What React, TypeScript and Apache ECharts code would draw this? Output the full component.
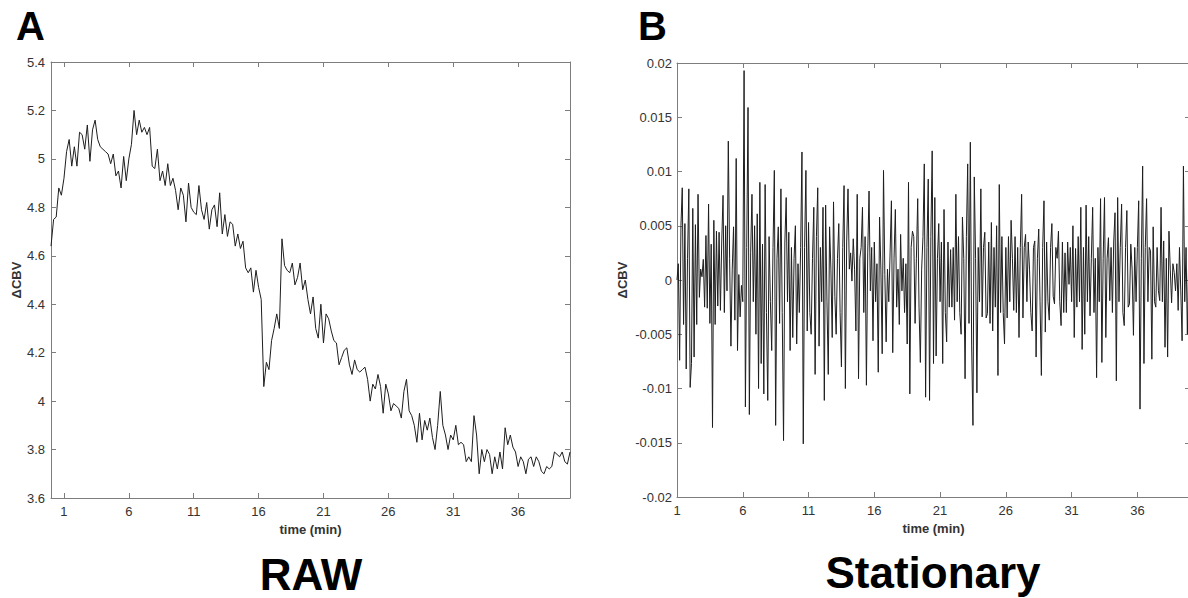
import React, { useEffect, useRef } from "react";
import * as echarts from "echarts";

// ---------- data ----------
// Panel A (RAW): ΔCBV sampled every 0.2 min starting at t = 0
const rawStart = 0;
const rawStep = 0.2;
const rawValues = [
  4.64, 4.75, 4.76, 4.88, 4.85,
  4.92, 5.03, 5.08, 4.97, 5.05,
  4.97, 5.11, 5.10, 5.04, 5.14,
  4.99, 5.12, 5.16, 5.08, 5.05,
  5.04, 5.03, 5.02, 4.98, 5.02,
  4.93, 4.95, 4.88, 5.01, 4.91,
  5.00, 5.06, 5.20, 5.10, 5.16,
  5.11, 5.13, 5.10, 5.13, 4.97,
  4.96, 5.04, 4.91, 4.95, 4.89,
  4.98, 4.89, 4.92, 4.87, 4.79,
  4.88, 4.85, 4.74, 4.90, 4.80,
  4.78, 4.77, 4.89, 4.79, 4.75,
  4.82, 4.71, 4.79, 4.81, 4.72,
  4.86, 4.69, 4.77, 4.68, 4.74,
  4.73, 4.64, 4.69, 4.63, 4.66,
  4.55, 4.53, 4.55, 4.45, 4.54,
  4.47, 4.42, 4.06, 4.16, 4.13,
  4.25, 4.30, 4.36, 4.30, 4.67,
  4.56, 4.54, 4.53, 4.57, 4.48,
  4.51, 4.57, 4.46, 4.50, 4.42,
  4.36, 4.43, 4.30, 4.26, 4.40,
  4.24, 4.36, 4.34, 4.29, 4.25,
  4.24, 4.15, 4.18, 4.21, 4.22,
  4.15, 4.11, 4.17, 4.13, 4.12,
  4.13, 4.14, 4.09, 4.00, 4.07,
  4.05, 4.11, 4.06, 3.95, 4.07,
  4.03, 3.96, 3.99, 3.98, 3.97,
  3.93, 4.04, 4.09, 3.96, 3.94,
  3.90, 3.83, 3.95, 3.84, 3.92,
  3.88, 3.93, 3.85, 3.80, 3.90,
  4.04, 3.90, 3.86, 3.80, 3.86,
  3.84, 3.90, 3.82, 3.83, 3.82,
  3.75, 3.77, 3.75, 3.94, 3.86,
  3.70, 3.80, 3.75, 3.80, 3.78,
  3.70, 3.77, 3.72, 3.79, 3.72,
  3.89, 3.82, 3.86, 3.81, 3.79,
  3.73, 3.77, 3.75, 3.70, 3.76,
  3.77, 3.73, 3.77, 3.75, 3.71,
  3.70, 3.73, 3.72, 3.73, 3.79,
  3.78, 3.77, 3.79, 3.75, 3.74,
  3.79,
];

// Panel B (Stationary): ΔCBV sampled every 0.1 min starting at t = 1
const statStart = 1;
const statStep = 0.1;
const statValues = [
  0, 1.5e-3, -7.4e-3, 5.0e-3, 8.5e-3, -4.1e-3, 5.2e-3, -8.2e-3, 2.0e-3, 8.4e-3,
  -9.9e-3, -7.7e-3, 6.6e-3, -7.1e-3, 5.1e-3, -4.1e-3, 7.9e-3, -1.6e-3, 1.0e-3, 0.3e-3,
  1.9e-3, -2.5e-3, 4.1e-3, -2.6e-3, 7.0e-3, -4.0e-3, 3.3e-3, -13.6e-3, 5.5e-3, -4.1e-3,
  4.5e-3, -2.4e-3, 4.4e-3, -2.8e-3, 3.5e-3, 7.8e-3, -3.0e-3, 5.0e-3, -1.0e-3, 12.8e-3,
  2.0e-3, -6.1e-3, 1.0e-3, 4.9e-3, -3.7e-3, 11.2e-3, -6.5e-3, 0.5e-3, -3.4e-3, -0.5e-3,
  -2.0e-3, 19.3e-3, -11.7e-3, 3.0e-3, 15.9e-3, -12.4e-3, 2.5e-3, 7.9e-3, -2.0e-3, 5.0e-3,
  -5.0e-3, 6.1e-3, -10.0e-3, 9.0e-3, -7.7e-3, 3.3e-3, -10.5e-3, 8.8e-3, -3.0e-3, -11.1e-3,
  4.0e-3, -2.0e-3, -6.5e-3, 3.0e-3, 10.1e-3, -13.4e-3, 2.0e-3, 4.9e-3, -4.0e-3, 8.4e-3,
  -3.0e-3, -14.8e-3, 3.5e-3, 7.6e-3, -2.0e-3, 4.4e-3, -6.5e-3, 3.0e-3, -5.3e-3, 2.0e-3,
  5.0e-3, -5.9e-3, 1.5e-3, -3.0e-3, 3.0e-3, 11.8e-3, -15.1e-3, 3.0e-3, 10.1e-3, -4.7e-3,
  5.3e-3, -3.0e-3, -5.0e-3, 2.0e-3, 6.7e-3, -8.7e-3, 4.0e-3, 8.5e-3, -6.1e-3, 3.0e-3,
  -2.0e-3, 6.7e-3, -11.1e-3, 6.9e-3, -2.0e-3, -8.7e-3, 4.9e-3, 1.0e-3, -5.3e-3, 7.2e-3,
  -1.5e-3, -5.0e-3, 2.0e-3, 5.2e-3, -3.0e-3, -8.0e-3, 3.0e-3, 8.7e-3, -10.0e-3, 3.5e-3,
  8.4e-3, 1.0e-3, 2.5e-3, -0.1e-3, 3.8e-3, 1.0e-3, -4.7e-3, 7.9e-3, -9.1e-3, 2.0e-3,
  3.0e-3, 6.7e-3, -3.0e-3, 4.0e-3, -9.7e-3, 2.5e-3, 8.2e-3, -1.0e-3, 3.0e-3, -5.6e-3,
  3.5e-3, -2.0e-3, 1.5e-3, -8.5e-3, 5.8e-3, 1.0e-3, -6.8e-3, 10.1e-3, 0.5e-3, -5.7e-3,
  1.0e-3, -2.0e-3, 2.5e-3, 7.3e-3, -6.7e-3, 2.0e-3, 6.5e-3, -2.5e-3, 1.0e-3, -4.1e-3,
  4.2e-3, -1.0e-3, 2.0e-3, -3.0e-3, 1.5e-3, -5.9e-3, 9.0e-3, -10.5e-3, 3.0e-3, 4.5e-3,
  4.0e-3, -4.0e-3, 2.0e-3, 7.5e-3, -2.5e-3, -7.6e-3, 1.0e-3, 4.0e-3, 10.7e-3, -10.8e-3,
  3.0e-3, 9.3e-3, -11.1e-3, 4.0e-3, 11.9e-3, -7.7e-3, 7.6e-3, -7.0e-3, 2.0e-3, 5.2e-3,
  -2.0e-3, 3.5e-3, -7.7e-3, 6.5e-3, -3.0e-3, -5.7e-3, 3.5e-3, -2.5e-3, 2.8e-3, -2.5e-3,
  3.0e-3, -3.7e-3, 7.9e-3, -2.0e-3, 4.0e-3, -3.0e-3, -5.0e-3, 5.8e-3, 2.0e-3, -9.1e-3,
  4.0e-3, 10.7e-3, -4.0e-3, 12.7e-3, -6.0e-3, -13.4e-3, 9.5e-3, 2.0e-3, -10.4e-3, 3.0e-3,
  -2.0e-3, 8.4e-3, -3.4e-3, 3.0e-3, 4.4e-3, -3.5e-3, -3.1e-3, 3.5e-3, -4.0e-3, 5.3e-3,
  -4.7e-3, 3.0e-3, -2.5e-3, 5.0e-3, -8.8e-3, 8.8e-3, -3.0e-3, 4.0e-3, -3.0e-3, -5.9e-3,
  3.0e-3, -3.5e-3, 4.0e-3, -2.0e-3, 5.5e-3, 2.0e-3, -2.8e-3, 4.0e-3, -3.0e-3, 3.0e-3,
  -5.3e-3, 3.0e-3, 7.9e-3, -3.5e-3, 3.0e-3, 4.2e-3, -2.0e-3, 3.5e-3, 1.0e-3, -3.0e-3,
  -4.7e-3, 3.0e-3, 3.6e-3, -7.1e-3, 2.0e-3, 4.7e-3, -2.0e-3, -8.8e-3, 3.0e-3, 7.3e-3,
  -4.8e-3, 3.5e-3, -2.0e-3, -3.7e-3, 3.0e-3, 5.2e-3, -1.5e-3, -2.2e-3, 3.0e-3, 2.0e-3,
  4.5e-3, -2.0e-3, -4.2e-3, 3.5e-3, -3.0e-3, 2.5e-3, -3.0e-3, 3.5e-3, -0.4e-3, 3.0e-3,
  -2.0e-3, 5.0e-3, -5.3e-3, 2.9e-3, -2.5e-3, 4.0e-3, -2.0e-3, 6.7e-3, -6.4e-3, 3.0e-3,
  -5.0e-3, 6.9e-3, -2.0e-3, 4.0e-3, -3.3e-3, 2.0e-3, 6.7e-3, -3.0e-3, 2.0e-3, -9.0e-3,
  3.0e-3, -2.0e-3, 7.5e-3, -7.6e-3, 2.0e-3, 7.6e-3, -5.3e-3, 2.0e-3, 3.9e-3, -1.9e-3,
  3.0e-3, -3.0e-3, 3.5e-3, 6.2e-3, -9.3e-3, 7.6e-3, -2.0e-3, 3.0e-3, 7.0e-3, -3.0e-3,
  -4.2e-3, 3.0e-3, 6.4e-3, -2.5e-3, -2.2e-3, 3.3e-3, 1.0e-3, -5.1e-3, 3.0e-3, -2.0e-3,
  3.0e-3, 7.3e-3, -11.9e-3, 2.0e-3, 10.5e-3, -7.7e-3, 3.0e-3, 7.5e-3, -2.0e-3, 3.0e-3,
  2.7e-3, -7.3e-3, 4.9e-3, -2.0e-3, -2.5e-3, 3.0e-3, -1.0e-3, -1.9e-3, 6.7e-3, -2.0e-3,
  3.6e-3, -6.2e-3, 2.0e-3, -7.1e-3, 4.5e-3, 1.0e-3, -2.1e-3, 1.5e-3, 0.7e-3, -1.0e-3,
  1.5e-3, -2.8e-3, 3.0e-3, -1.0e-3, -5.6e-3, 10.5e-3, -2.0e-3, 3.0e-3, -5.0e-3, 2.0e-3,
  -3.0e-3,
];

const timeTicks = [1, 6, 11, 16, 21, 26, 31, 36];
const rawYRange = [3.6, 5.4];
const rawYInterval = 0.2;
const statYRange = [-0.02, 0.02];
const statYInterval = 0.005;
const rawXRange = [0, 40];
const statXRange = [1, 40];

const panelLetters = ["A", "B"];
const panelTitles = ["RAW", "Stationary"];
const yName = "ΔCBV";
const xName = "time (min)";

// ---------- styling ----------
const FONT = "'Liberation Sans', Arial, Helvetica, sans-serif";
const FRAME = "#7d7d7d";
const LABEL = "#333333";
const LINE = "#1e1e1e";

function toPairs(start: number, step: number, values: number[]) {
  return values.map((v, i) => [+(start + i * step).toFixed(3), v]);
}

function xAxes(gridIndex: number, range: number[]) {
  const common = {
    gridIndex,
    type: "value",
    min: range[0],
    max: range[1],
    splitLine: { show: false },
    axisLine: { show: true, onZero: false, lineStyle: { color: FRAME, width: 1 } },
    axisTick: {
      show: true,
      inside: true,
      length: 5,
      customValues: timeTicks,
      lineStyle: { color: FRAME, width: 1 },
    },
  };
  return [
    {
      ...common,
      position: "bottom",
      axisLabel: {
        show: true,
        customValues: timeTicks,
        margin: 7,
        fontSize: 13,
        color: LABEL,
        fontFamily: FONT,
      },
      name: xName,
      nameLocation: "middle",
      nameGap: 25,
      nameTextStyle: { fontSize: 13, fontWeight: "bold", color: LABEL, fontFamily: FONT },
    },
    {
      ...common,
      position: "top",
      axisLabel: { show: false },
    },
  ];
}

function yAxes(gridIndex: number, range: number[], interval: number, nameGap: number, margin: number) {
  const common = {
    gridIndex,
    type: "value",
    min: range[0],
    max: range[1],
    interval,
    splitLine: { show: false },
    axisLine: { show: true, onZero: false, lineStyle: { color: FRAME, width: 1 } },
    axisTick: { show: true, inside: true, length: 5, lineStyle: { color: FRAME, width: 1 } },
  };
  return [
    {
      ...common,
      position: "left",
      axisLabel: { show: true, margin, fontSize: 13, color: LABEL, fontFamily: FONT },
      name: yName,
      nameLocation: "middle",
      nameGap,
      nameRotate: 90,
      nameTextStyle: { fontSize: 13, fontWeight: "bold", color: LABEL, fontFamily: FONT },
    },
    {
      ...common,
      position: "right",
      axisLabel: { show: false },
    },
  ];
}

export default function App() {
  const ref = useRef<HTMLDivElement>(null);

  useEffect(() => {
    if (!ref.current) return;
    const chart = echarts.init(ref.current, undefined, { renderer: "svg" });

    const option = {
      animation: false,
      backgroundColor: "#ffffff",
      grid: [
        { left: 51, top: 62, width: 519, height: 436 },
        { left: 677, top: 63, width: 513, height: 434 },
      ],
      xAxis: [...xAxes(0, rawXRange), ...xAxes(1, statXRange)],
      yAxis: [
        ...yAxes(0, rawYRange, rawYInterval, 24, 6),
        ...yAxes(1, statYRange, statYInterval, 48, 5),
      ],
      series: [
        {
          type: "line",
          xAxisIndex: 0,
          yAxisIndex: 0,
          data: toPairs(rawStart, rawStep, rawValues),
          showSymbol: false,
          symbol: "none",
          lineStyle: { color: LINE, width: 1 },
        },
        {
          type: "line",
          xAxisIndex: 2,
          yAxisIndex: 2,
          data: toPairs(statStart, statStep, statValues),
          showSymbol: false,
          symbol: "none",
          lineStyle: { color: LINE, width: 1 },
        },
      ],
      graphic: [
        {
          type: "text",
          left: 16,
          top: 6,
          style: { text: panelLetters[0], font: `bold 40px ${FONT}`, fill: "#000" },
        },
        {
          type: "text",
          left: 638,
          top: 6,
          style: { text: panelLetters[1], font: `bold 40px ${FONT}`, fill: "#000" },
        },
        {
          type: "text",
          x: 311,
          y: 574,
          style: {
            text: panelTitles[0],
            font: `bold 44px ${FONT}`,
            lineHeight: 40,
            fill: "#000",
            textAlign: "center",
            textVerticalAlign: "middle",
          },
        },
        {
          type: "text",
          x: 933,
          y: 572,
          style: {
            text: panelTitles[1],
            font: `bold 44px ${FONT}`,
            lineHeight: 40,
            fill: "#000",
            textAlign: "center",
            textVerticalAlign: "middle",
          },
        },
      ],
    };

    chart.setOption(option as any);
    return () => {
      chart.dispose();
    };
  }, []);

  return (
    <div
      style={{
        position: "fixed",
        left: 0,
        top: 0,
        width: 1188,
        height: 598,
        overflow: "hidden",
        background: "#fff",
      }}
    >
      <div ref={ref} style={{ width: 1192, height: 598 }} />
    </div>
  );
}
